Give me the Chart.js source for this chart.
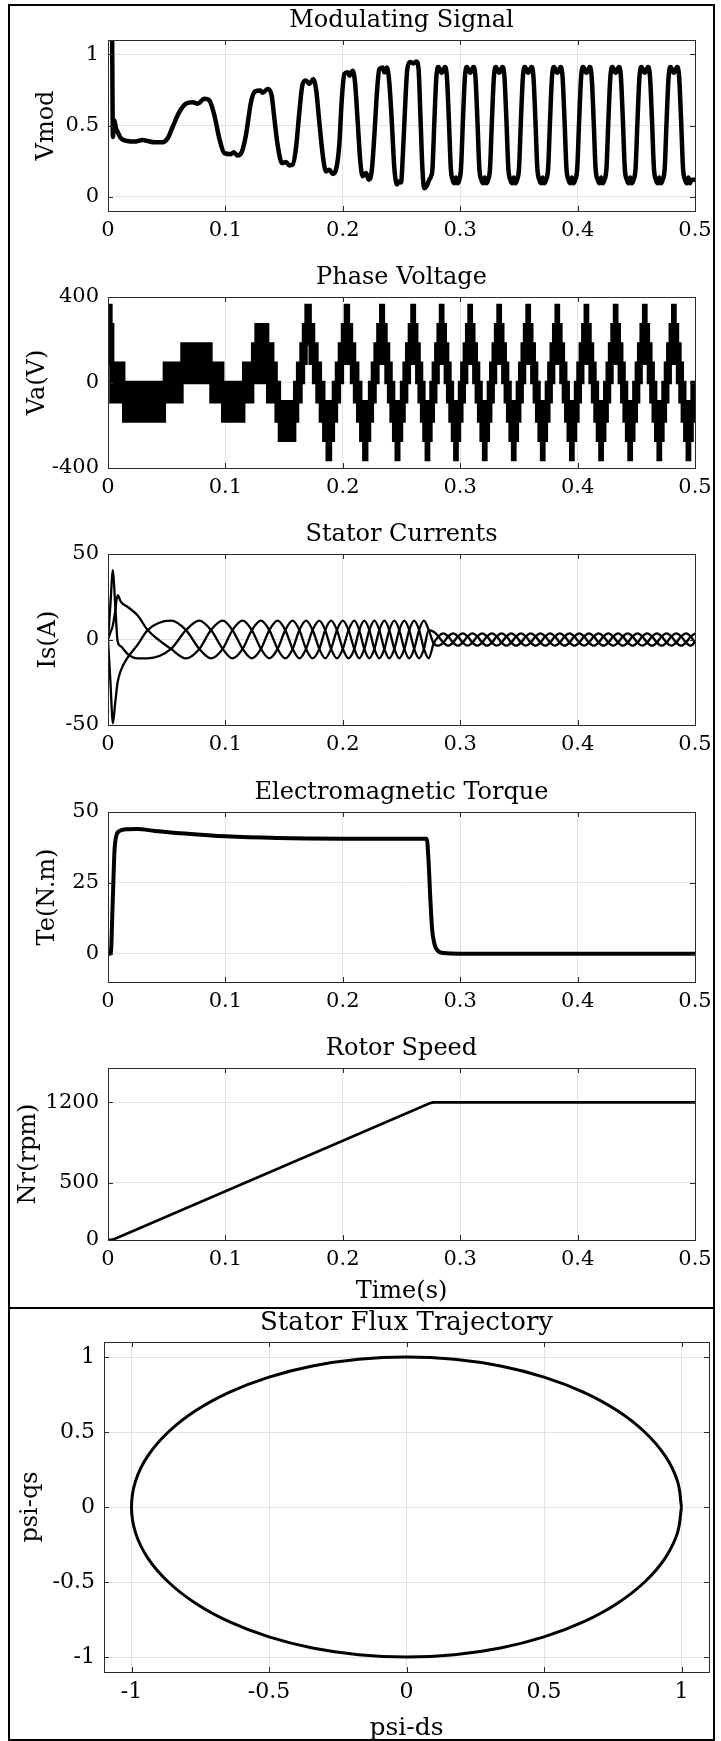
<!DOCTYPE html>
<html><head><meta charset="utf-8">
<script src="https://cdn.jsdelivr.net/npm/chart.js@4.4.1/dist/chart.umd.min.js"></script>
<style>
html,body{margin:0;padding:0;background:#fff;}
#wrap{position:relative;width:721px;height:1741px;overflow:hidden;background:#fff;}
canvas{position:absolute;left:0;}
.frame{position:absolute;border:2px solid #000;box-sizing:border-box;pointer-events:none;}
</style></head><body><div id="wrap">
<canvas id="c1"></canvas><canvas id="c2"></canvas><canvas id="c3"></canvas>
<canvas id="c4"></canvas><canvas id="c5"></canvas><canvas id="c6"></canvas>
<div class="frame" style="left:8px;top:4px;width:707px;height:1305px"></div>
<div class="frame" style="left:8px;top:1307px;width:707px;height:434px"></div>
</div>
<script>
// ---------- tick labels ----------
const timeTicks = [0, 0.1, 0.2, 0.3, 0.4, 0.5];
const vmodTicks = [0, 0.5, 1];
const vaTicks = [-400, 0, 400];
const isTicks = [-50, 0, 50];
const teTicks = [0, 25, 50];
const nrTicks = [0, 500, 1200];
const psiTicks = [-1, -0.5, 0, 0.5, 1];

// ---------- Modulating signal ----------
const vmodT = [
 0.0035,0.0042,0.0054,0.0068,0.0082,0.0110,0.0168,0.0224,0.0295,0.0338,
 0.0395,0.0466,0.0508,0.0551,0.0608,0.0664,0.0721,0.0764,0.0821,0.0863,
 0.0906,0.0948,0.0991,0.1048,0.1070,0.1104,0.1139,0.1175,0.1218,0.1252,
 0.1298,0.1317,0.1360,0.1394,0.1417,0.1445,0.1482,0.1516,0.1545,0.1573,
 0.1601,0.1630,0.1658,0.1687,0.1715,0.1749,0.1772,0.1800,0.1829,0.1857,
 0.1885,0.1914,0.1942,0.1970,0.1990,0.2013,0.2041,0.2056,0.2084,0.2104,
 0.2127,0.2149,0.2169,0.2198,0.2220,0.2246,0.2269,0.2291,0.2311,0.2340,
 0.2354,0.2376,0.2396,0.2416,0.2439,0.2462,0.2482,0.2496,0.2512,0.2530,
 0.2550,0.2575,0.2600,0.2625,0.2645,0.2662,0.2678,0.2694,0.2714,0.2737,
 0.2750,
 0.2764,0.2780,0.2797,0.2814,0.2842,0.2870,0.2887,0.2904,0.2920,0.2935,0.2952,0.2964,0.2976,0.2993,
 0.3007,0.3023,0.3040,0.3057,0.3085,0.3113,0.3130,0.3147,0.3163,0.3180,0.3197,0.3209,0.3221,0.3238,
 0.3254,0.3270,0.3287,0.3304,0.3332,0.3360,0.3377,0.3394,0.3410,0.3427,0.3444,0.3456,0.3468,0.3485,
 0.3501,0.3517,0.3534,0.3551,0.3579,0.3607,0.3624,0.3641,0.3657,0.3674,0.3691,0.3703,0.3715,0.3732,
 0.3749,0.3765,0.3782,0.3799,0.3827,0.3855,0.3872,0.3889,0.3905,0.3922,0.3939,0.3951,0.3963,0.3980,
 0.3997,0.4013,0.4030,0.4047,0.4075,0.4103,0.4120,0.4137,0.4153,0.4171,0.4188,0.4200,0.4212,0.4229,
 0.4246,0.4262,0.4279,0.4296,0.4324,0.4352,0.4369,0.4386,0.4402,0.4419,0.4436,0.4448,0.4460,0.4477,
 0.4494,0.4510,0.4527,0.4544,0.4572,0.4600,0.4617,0.4634,0.4650,0.4667,0.4684,0.4696,0.4708,0.4725,
 0.4742,0.4758,0.4775,0.4792,0.4820,0.4848,0.4865,0.4882,0.4898,0.4915,0.4932,0.4944,0.4956,0.4973,
 0.5000];
const vmodV = [
 1.15,0.42,0.537,0.48,0.456,0.41,0.391,0.387,0.398,0.391,
 0.382,0.382,0.41,0.491,0.595,0.653,0.664,0.653,0.688,0.676,
 0.572,0.41,0.306,0.299,0.313,0.289,0.313,0.433,0.664,0.738,
 0.745,0.729,0.757,0.711,0.549,0.363,0.236,0.243,0.22,0.225,
 0.34,0.595,0.792,0.815,0.792,0.826,0.757,0.525,0.294,0.178,
 0.19,0.16,0.19,0.363,0.664,0.861,0.873,0.85,0.884,0.803,
 0.525,0.248,0.144,0.167,0.12,0.178,0.433,0.734,0.896,0.907,
 0.873,0.907,0.803,0.549,0.201,0.086,0.109,0.10,0.30,0.62,
 0.90,0.945,0.935,0.95,0.90,0.55,0.20,0.06,0.075,0.12,
 0.14,
 0.20,0.53,0.84,0.91,0.87,0.91,0.84,0.53,0.20,0.12,0.095,0.135,0.095,0.12,
 0.20,0.53,0.84,0.91,0.87,0.91,0.84,0.53,0.20,0.12,0.095,0.135,0.095,0.12,
 0.20,0.53,0.84,0.91,0.87,0.91,0.84,0.53,0.20,0.12,0.095,0.135,0.095,0.12,
 0.20,0.53,0.84,0.91,0.87,0.91,0.84,0.53,0.20,0.12,0.095,0.135,0.095,0.12,
 0.20,0.53,0.84,0.91,0.87,0.91,0.84,0.53,0.20,0.12,0.095,0.135,0.095,0.12,
 0.20,0.53,0.84,0.91,0.87,0.91,0.84,0.53,0.20,0.12,0.095,0.135,0.095,0.12,
 0.20,0.53,0.84,0.91,0.87,0.91,0.84,0.53,0.20,0.12,0.095,0.135,0.095,0.12,
 0.20,0.53,0.84,0.91,0.87,0.91,0.84,0.53,0.20,0.12,0.095,0.135,0.095,0.12,
 0.20,0.53,0.84,0.91,0.87,0.91,0.84,0.53,0.20,0.12,0.095,0.135,0.095,0.12,
 0.12];

// ---------- Phase voltage (PWM band: upper / lower level) ----------
const vaT = [
 0,0.0025,0.0040,0.0134,0.0480,0.0630,0.0877,0.0977,0.1156,0.1232,
 0.1261,0.1298,0.1320,0.1360,0.1403,0.1432,0.1460,0.1590,0.1615,0.1644,
 0.1665,0.1687,
 0.1722,0.1751,0.1780,0.1809,0.1838,0.1867, 0.1895,0.1920,0.1946,0.1971,0.1997,0.2022,
 0.2048,0.2074,0.2100,0.2127,0.2153,0.2179, 0.2204,0.2228,0.2252,0.2275,0.2299,0.2323,
 0.2346,0.2368,0.2390,0.2411,0.2433,0.2455, 0.2477,0.2500,0.2522,0.2544,0.2567,0.2589,
 0.2610,0.2630,0.2650,0.2671,0.2691,0.2711, 0.2731,0.2751,0.2771,0.2792,0.2812,0.2832,
 0.2852,0.2873,0.2893,0.2913,0.2934,0.2954, 0.2974,0.2994,0.3014,0.3035,0.3055,0.3075,
 0.3095,0.3116,0.3137,0.3157,0.3178,0.3199, 0.3219,0.3240,0.3260,0.3281,0.3301,0.3322,
 0.3342,0.3363,0.3384,0.3404,0.3425,0.3446, 0.3466,0.3487,0.3507,0.3528,0.3548,0.3569,
 0.3589,0.3610,0.3631,0.3651,0.3672,0.3693, 0.3713,0.3734,0.3755,0.3775,0.3796,0.3817,
 0.3837,0.3858,0.3879,0.3899,0.3920,0.3941, 0.3961,0.3982,0.4003,0.4023,0.4044,0.4065,
 0.4085,0.4106,0.4127,0.4148,0.4169,0.4190, 0.4210,0.4231,0.4252,0.4272,0.4293,0.4314,
 0.4334,0.4355,0.4376,0.4396,0.4417,0.4438, 0.4458,0.4479,0.4500,0.4520,0.4541,0.4562,
 0.4582,0.4603,0.4624,0.4644,0.4665,0.4686, 0.4706,0.4727,0.4748,0.4768,0.4789,0.4810,
 0.4830,0.4851,0.4872,0.4892,0.4913,0.4934, 0.4954,0.4975,0.5000];
const vaHi = [
 360,270,90,0,90,180,90,0,90,180,
 270,180,270,180,90,0,-90,0,90,180,
 270,360,
 270,180,90,0,-90,-180, -90,0,90,180,270,360,
 270,180,90,0,-90,-180, -90,0,90,180,270,360,
 270,180,90,0,-90,-180, -90,0,90,180,270,360,
 270,180,90,0,-90,-180, -90,0,90,180,270,360,
 270,180,90,0,-90,-180, -90,0,90,180,270,360,
 270,180,90,0,-90,-180, -90,0,90,180,270,360,
 270,180,90,0,-90,-180, -90,0,90,180,270,360,
 270,180,90,0,-90,-180, -90,0,90,180,270,360,
 270,180,90,0,-90,-180, -90,0,90,180,270,360,
 270,180,90,0,-90,-180, -90,0,90,180,270,360,
 270,180,90,0,-90,-180, -90,0,90,180,270,360,
 270,180,90,0,-90,-180, -90,0,90,180,270,360,
 270,180,90,0,-90,-180, -90,0,0];
const vaLo = [
 90,-90,-90,-180,-90,0,-90,-180,-90,0,
 0,0,0,-90,-90,-180,-270,-180,-90,0,
 90,180,
 90,0,-90,-180,-270,-360, -270,-180,-90,0,90,180,
 90,0,-90,-180,-270,-360, -270,-180,-90,0,90,180,
 90,0,-90,-180,-270,-360, -270,-180,-90,0,90,180,
 90,0,-90,-180,-270,-360, -270,-180,-90,0,90,180,
 90,0,-90,-180,-270,-360, -270,-180,-90,0,90,180,
 90,0,-90,-180,-270,-360, -270,-180,-90,0,90,180,
 90,0,-90,-180,-270,-360, -270,-180,-90,0,90,180,
 90,0,-90,-180,-270,-360, -270,-180,-90,0,90,180,
 90,0,-90,-180,-270,-360, -270,-180,-90,0,90,180,
 90,0,-90,-180,-270,-360, -270,-180,-90,0,90,180,
 90,0,-90,-180,-270,-360, -270,-180,-90,0,90,180,
 90,0,-90,-180,-270,-360, -270,-180,-90,0,90,180,
 90,0,-90,-180,-270,-360, -270,-180,-180];

// ---------- Stator currents ----------
const isT = [
 0,0.0020,0.0042,0.0060,0.0082,0.0110,0.0168,0.0253,
 0.0338,0.0537,0.0664,0.0778,0.0877,0.0977,
 0.1060,0.1147,0.1225,0.1303,0.1374,0.1445,
 0.1510,0.1573,0.1630,0.1687,0.1743,0.1800,
 0.1850,0.1900,0.1950,0.2000,0.2049,0.2098,
 0.2140,0.2183,0.2226,0.2269,0.2311,0.2354,
 0.2396,0.2439,0.2481,0.2524,0.2566,0.2608,
 0.2650,0.2691,0.2732,0.2774,0.2815,0.2856,
 0.2898,0.2939,0.2980,0.3022,0.3063,0.3104,
 0.3146,0.3187,0.3228,0.3270,0.3311,0.3352,
 0.3394,0.3435,0.3476,0.3518,0.3559,0.3600,
 0.3642,0.3683,0.3724,0.3766,0.3807,0.3848,
 0.3890,0.3931,0.3972,0.4014,0.4055,0.4096,
 0.4138,0.4179,0.4220,0.4262,0.4303,0.4344,
 0.4386,0.4427,0.4468,0.4510,0.4551,0.4592,
 0.4634,0.4675,0.4716,0.4758,0.4799,0.4840,
 0.4882,0.4923,0.4964,0.5000];
const isA = [
 0,20,40.5,22,-1,-4,-8.5,-11,
 -11,-5.5,5.5,11,5.5,-5.5,
 -11,-5.5,5.5,11,5.5,-5.5,
 -11,-5.5,5.5,11,5.5,-5.5,
 -11,-5.5,5.5,11,5.5,-5.5,
 -11,-5.5,5.5,11,5.5,-5.5,
 -11,-5.5,5.5,11,5.5,-5.5,
 -11,-5.5,5.5,4.5,1.8,-1.8,
 -3.6,-1.8,1.8,3.6,1.8,-1.8,
 -3.6,-1.8,1.8,3.6,1.8,-1.8,
 -3.6,-1.8,1.8,3.6,1.8,-1.8,
 -3.6,-1.8,1.8,3.6,1.8,-1.8,
 -3.6,-1.8,1.8,3.6,1.8,-1.8,
 -3.6,-1.8,1.8,3.6,1.8,-1.8,
 -3.6,-1.8,1.8,3.6,1.8,-1.8,
 -3.6,-1.8,1.8,3.6,1.8,-1.8,
 -3.6,-1.8,1.8,3.5];
const isB = [
 0,-24,-49,-38,-25,-18,-10.5,-3,
 5.5,11,5.5,-5.5,-11,-5.5,
 5.5,11,5.5,-5.5,-11,-5.5,
 5.5,11,5.5,-5.5,-11,-5.5,
 5.5,11,5.5,-5.5,-11,-5.5,
 5.5,11,5.5,-5.5,-11,-5.5,
 5.5,11,5.5,-5.5,-11,-5.5,
 5.5,11,5.5,-2.2,-3.6,-1.8,
 1.8,3.6,1.8,-1.8,-3.6,-1.8,
 1.8,3.6,1.8,-1.8,-3.6,-1.8,
 1.8,3.6,1.8,-1.8,-3.6,-1.8,
 1.8,3.6,1.8,-1.8,-3.6,-1.8,
 1.8,3.6,1.8,-1.8,-3.6,-1.8,
 1.8,3.6,1.8,-1.8,-3.6,-1.8,
 1.8,3.6,1.8,-1.8,-3.6,-1.8,
 1.8,3.6,1.8,-1.8,-3.6,-1.8,
 1.8,3.6,1.8,-1.9];
const isC = [
 0,4,8.5,16,26,22,19,14,
 5.5,-5.5,-11,-5.5,5.5,11,
 5.5,-5.5,-11,-5.5,5.5,11,
 5.5,-5.5,-11,-5.5,5.5,11,
 5.5,-5.5,-11,-5.5,5.5,11,
 5.5,-5.5,-11,-5.5,5.5,11,
 5.5,-5.5,-11,-5.5,5.5,11,
 5.5,-5.5,-11,-2.3,1.8,3.6,
 1.8,-1.8,-3.6,-1.8,1.8,3.6,
 1.8,-1.8,-3.6,-1.8,1.8,3.6,
 1.8,-1.8,-3.6,-1.8,1.8,3.6,
 1.8,-1.8,-3.6,-1.8,1.8,3.6,
 1.8,-1.8,-3.6,-1.8,1.8,3.6,
 1.8,-1.8,-3.6,-1.8,1.8,3.6,
 1.8,-1.8,-3.6,-1.8,1.8,3.6,
 1.8,-1.8,-3.6,-1.8,1.8,3.6,
 1.8,-1.8,-3.6,-1.6];

// ---------- Electromagnetic torque ----------
const teT = [0,0.0023,0.0040,0.0055,0.0070,0.0100,0.0150,0.0250,0.0400,0.0650,0.1000,0.1440,0.2000,0.2715,0.2730,0.2745,0.2760,0.2780,0.2810,0.2860,0.3000,0.5000];
const teV = [0,0,18,36,41.5,43.3,43.9,44.0,43.3,42.4,41.4,40.8,40.6,40.6,33,20,9,3.5,1.0,0.2,0,0];

// ---------- Rotor speed ----------
const nrT = [0,0.004,0.010,0.100,0.200,0.2740,0.2770,0.5000];
const nrV = [0,3,28,425,866,1192,1200,1200];

// ---------- Stator flux trajectory ----------
const psiDs = [1,0.985,0.940,0.866,0.766,0.643,0.5,0.342,0.174,0,-0.174,-0.342,-0.5,-0.643,-0.766,-0.866,-0.940,-0.985,-1,-0.985,-0.940,-0.866,-0.766,-0.643,-0.5,-0.342,-0.174,0,0.174,0.342,0.5,0.643,0.766,0.866,0.940,0.985,1];
const psiQs = [0,0.174,0.342,0.5,0.643,0.766,0.866,0.940,0.985,1,0.985,0.940,0.866,0.766,0.643,0.5,0.342,0.174,0,-0.174,-0.342,-0.5,-0.643,-0.766,-0.866,-0.940,-0.985,-1,-0.985,-0.940,-0.866,-0.766,-0.643,-0.5,-0.342,-0.174,0];

// ---------- rendering ----------
const FONT = "'DejaVu Serif', 'Liberation Serif', serif";
Chart.defaults.font.family = FONT;
Chart.defaults.color = '#000';
function xy(ts, vs) { return ts.map((t, i) => ({x: t, y: vs[i]})); }

const boxPlugin = {
  id: 'matlabBox',
  afterDraw(chart) {
    const ctx = chart.ctx, a = chart.chartArea, xs = chart.scales.x, ys = chart.scales.y;
    const L = 5;
    ctx.save();
    ctx.strokeStyle = '#2b2b2b'; ctx.lineWidth = 1;
    ctx.beginPath();
    xs.ticks.forEach(t => { const p = Math.round(xs.getPixelForValue(t.value)) + 0.5;
      ctx.moveTo(p, a.bottom); ctx.lineTo(p, a.bottom - L); ctx.moveTo(p, a.top); ctx.lineTo(p, a.top + L); });
    ys.ticks.forEach(t => { const p = Math.round(ys.getPixelForValue(t.value)) + 0.5;
      ctx.moveTo(a.left, p); ctx.lineTo(a.left + L, p); ctx.moveTo(a.right, p); ctx.lineTo(a.right - L, p); });
    ctx.stroke();
    ctx.strokeRect(Math.round(a.left) + 0.5, Math.round(a.top) + 0.5, Math.round(a.right - a.left), Math.round(a.bottom - a.top));
    ctx.restore();
  }
};

function makePanel(o) {
  const cv = document.getElementById(o.id);
  const top = o.plotTop - 40;
  const h = (o.plotBottom - o.plotTop) + 40 + o.bottomSpace;
  cv.width = 721; cv.height = h;
  cv.style.top = top + 'px'; cv.style.width = '721px'; cv.style.height = h + 'px';
  const tfs = o.tickSize || 21;
  const ttl = o.titleSize || 24;
  const tickFont = {family: FONT, size: tfs, lineHeight: 1.2};
  const tPadTop = 21 - ttl * 0.6;
  const tPadBot = 40 - tPadTop - ttl * 1.2;
  const xPad = 20 - tfs * 0.6;
  return new Chart(cv, {
    type: 'line',
    data: {datasets: o.datasets},
    options: {
      responsive: false, devicePixelRatio: 1, animation: false,
      layout: {padding: {left: 0, right: 721 - o.plotRight, top: 0, bottom: 0}},
      elements: {point: {radius: 0}},
      plugins: {
        legend: {display: false}, tooltip: {enabled: false},
        title: {display: true, text: o.title, fullSize: false, color: '#000',
          font: {family: FONT, size: ttl, weight: 'normal', lineHeight: 1.2},
          padding: {top: tPadTop, bottom: tPadBot}}
      },
      scales: {
        x: {
          type: 'linear', min: o.xMin, max: o.xMax,
          afterBuildTicks: s => { s.ticks = o.xTicks.map(v => ({value: v})); },
          afterFit: s => { s.height = o.bottomSpace; },
          ticks: {callback: v => String(v), padding: xPad, font: tickFont, color: '#000', maxRotation: 0, autoSkip: false},
          grid: {color: '#e2e2e2', drawTicks: false, lineWidth: 1},
          border: {display: false},
          title: o.xTitle ? {display: true, text: o.xTitle, color: '#000',
            font: {family: FONT, size: o.axisTitleSize || 24, lineHeight: 1}, padding: {top: 0, bottom: o.xTitlePad}} : {display: false}
        },
        y: {
          type: 'linear', min: o.yMin, max: o.yMax,
          afterBuildTicks: s => { s.ticks = o.yTicks.map(v => ({value: v})); },
          afterFit: s => { s.width = o.plotLeft; },
          ticks: {callback: v => String(v), padding: 9, font: tickFont, color: '#000', autoSkip: false},
          grid: {color: '#e2e2e2', drawTicks: false, lineWidth: 1},
          border: {display: false},
          title: {display: true, text: o.yTitle, color: '#000',
            font: {family: FONT, size: 24, lineHeight: 1}, padding: {top: o.yTitlePad, bottom: 0}}
        }
      }
    },
    plugins: [boxPlugin]
  });
}

const lineBase = {borderColor: '#000', pointRadius: 0, fill: false};

makePanel({id: 'c1', plotTop: 40, plotBottom: 211, plotLeft: 108, plotRight: 695, bottomSpace: 42,
  title: 'Modulating Signal', xMin: 0, xMax: 0.5, xTicks: timeTicks, yMin: -0.1, yMax: 1.1, yTicks: vmodTicks,
  yTitle: 'Vmod', yTitlePad: 35,
  datasets: [Object.assign({data: xy(vmodT, vmodV), borderWidth: 4.5, cubicInterpolationMode: 'monotone'}, lineBase)]});

makePanel({id: 'c2', plotTop: 297, plotBottom: 468, plotLeft: 108, plotRight: 695, bottomSpace: 42,
  title: 'Phase Voltage', xMin: 0, xMax: 0.5, xTicks: timeTicks, yMin: -400, yMax: 400, yTicks: vaTicks,
  yTitle: 'Va(V)', yTitlePad: 26,
  datasets: [
    {data: xy(vaT, vaHi), borderColor: '#000', borderWidth: 3.4, stepped: true, fill: false, pointRadius: 0},
    {data: xy(vaT, vaLo), borderColor: '#000', borderWidth: 3.4, stepped: true, fill: '-1', backgroundColor: '#000', pointRadius: 0}
  ]});

makePanel({id: 'c3', plotTop: 554, plotBottom: 725, plotLeft: 108, plotRight: 695, bottomSpace: 42,
  title: 'Stator Currents', xMin: 0, xMax: 0.5, xTicks: timeTicks, yMin: -50, yMax: 50, yTicks: isTicks,
  yTitle: 'Is(A)', yTitlePad: 37,
  datasets: [
    Object.assign({data: xy(isT, isA), borderWidth: 2.3, cubicInterpolationMode: 'monotone'}, lineBase),
    Object.assign({data: xy(isT, isB), borderWidth: 2.3, cubicInterpolationMode: 'monotone'}, lineBase),
    Object.assign({data: xy(isT, isC), borderWidth: 2.3, cubicInterpolationMode: 'monotone'}, lineBase)
  ]});

makePanel({id: 'c4', plotTop: 812, plotBottom: 982, plotLeft: 108, plotRight: 695, bottomSpace: 42,
  title: 'Electromagnetic Torque', xMin: 0, xMax: 0.5, xTicks: timeTicks, yMin: -10, yMax: 50, yTicks: teTicks,
  yTitle: 'Te(N.m)', yTitlePad: 36,
  datasets: [Object.assign({data: xy(teT, teV), borderWidth: 4, cubicInterpolationMode: 'monotone'}, lineBase)]});

makePanel({id: 'c5', plotTop: 1068, plotBottom: 1240, plotLeft: 108, plotRight: 695, bottomSpace: 67,
  title: 'Rotor Speed', xMin: 0, xMax: 0.5, xTicks: timeTicks, yMin: 0, yMax: 1500, yTicks: nrTicks,
  yTitle: 'Nr(rpm)', yTitlePad: 17, xTitle: 'Time(s)', xTitlePad: 3,
  datasets: [Object.assign({data: xy(nrT, nrV), borderWidth: 2.6}, lineBase)]});

makePanel({id: 'c6', plotTop: 1342, plotBottom: 1672, plotLeft: 104, plotRight: 709, bottomSpace: 69,
  title: 'Stator Flux Trajectory', titleSize: 26, tickSize: 22, axisTitleSize: 25,
  xMin: -1.1, xMax: 1.1, xTicks: psiTicks, yMin: -1.1, yMax: 1.1, yTicks: psiTicks,
  yTitle: 'psi-qs', yTitlePad: 19, xTitle: 'psi-ds', xTitlePad: 0,
  datasets: [Object.assign({data: xy(psiDs, psiQs), borderWidth: 3, tension: 0.4}, lineBase)]});
</script>
</body></html>
